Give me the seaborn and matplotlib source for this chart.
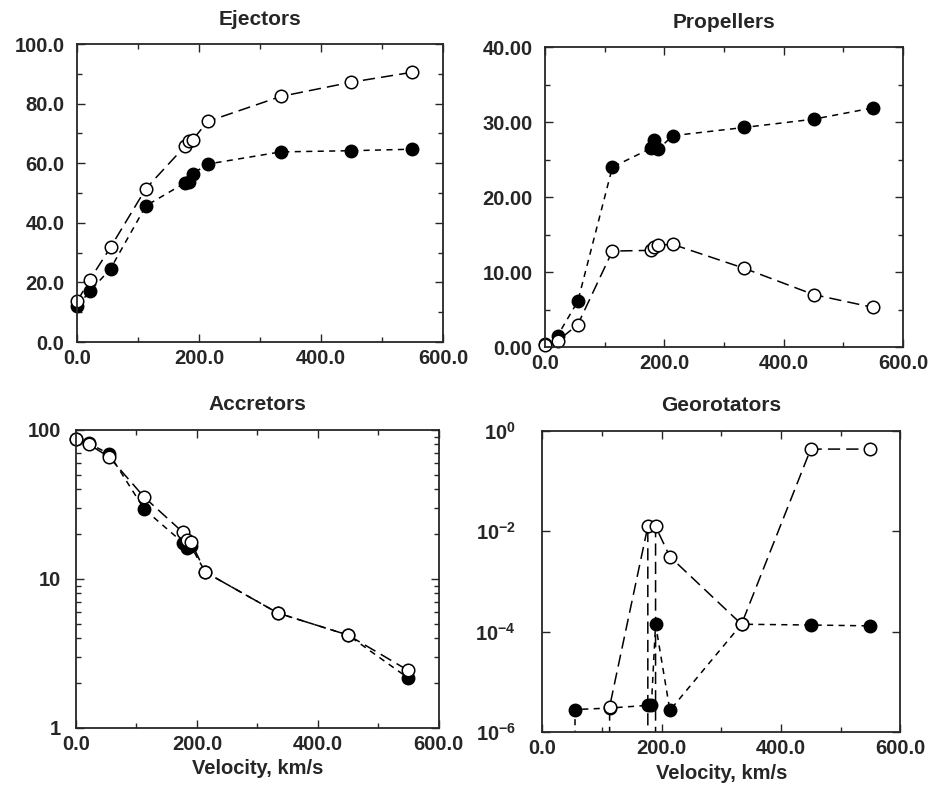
import numpy as np
import pandas as pd
import matplotlib
matplotlib.use('Agg')
import matplotlib.pyplot as plt
from matplotlib.ticker import FixedLocator, MultipleLocator, FormatStrFormatter, NullLocator, LogLocator
import seaborn as sns

# velocities (km/s) common to all runs
velocity = [0, 21, 55, 113, 177, 183, 190, 214, 334, 450, 549]

# Ejectors, %
ej_open = [13.6, 20.9, 31.8, 51.5, 65.7, 67.3, 67.9, 74.0, 82.4, 87.2, 90.5]
ej_fill = [12.0, 17.0, 24.6, 45.7, 53.4, 53.8, 56.5, 59.7, 63.8, 64.2, 64.7]

# Propellers, %
pr_open = [0.3, 0.8, 3.0, 12.8, 12.9, 13.4, 13.6, 13.7, 10.5, 7.0, 5.3]
pr_fill = [0.4, 1.5, 6.1, 24.0, 26.5, 27.6, 26.4, 28.2, 29.3, 30.4, 31.9]

# Accretors, % (log)
ac_open = [87, 80, 65.6, 35.3, 20.5, 18.3, 17.8, 11.1, 5.9, 4.2, 2.44]
ac_fill = [87, 81, 69, 29.3, 17.5, 16.1, 16.6, 11.1, 5.9, 4.2, 2.17]

# Georotators, % (log, zeros fall off the axis)
ge_open = [0, 0, 0, 3.2e-6, 0.0124, 0, 0.0124, 0.0031, 1.4e-4, 0.43, 0.43]
ge_fill = [0, 0, 2.8e-6, 3.0e-6, 3.4e-6, 3.4e-6, 1.4e-4, 2.7e-6, 1.4e-4, 1.35e-4, 1.3e-4]

sns.set_style('ticks')
plt.rcParams['font.family'] = ['Liberation Sans', 'DejaVu Sans']
plt.rcParams['font.weight'] = 'bold'
plt.rcParams['mathtext.fontset'] = 'custom'
plt.rcParams['mathtext.rm'] = 'Liberation Sans:bold'
plt.rcParams['mathtext.bf'] = 'Liberation Sans:bold'
plt.rcParams['mathtext.default'] = 'bf'


def draw_pair(ax, y_fill, y_open):
    df = pd.DataFrame({'v': velocity, 'fill': y_fill, 'open': y_open})
    sns.lineplot(data=df, x='v', y='fill', ax=ax, sort=False, estimator=None,
                 color='black', marker='o', markersize=9, markerfacecolor='black',
                 markeredgecolor='black', markeredgewidth=1.0, linewidth=1.1)
    ax.get_lines()[-1].set_dashes((4, 3.5))
    sns.lineplot(data=df, x='v', y='open', ax=ax, sort=False, estimator=None,
                 color='black', marker='o', markersize=9, markerfacecolor='white',
                 markeredgecolor='black', markeredgewidth=1.1, linewidth=1.1)
    ax.get_lines()[-1].set_dashes((8, 4))


def style(ax, title, xlabel, ypad=9):
    ax.set_title(title, fontsize=15, fontweight='bold', pad=14)
    ax.set_xlim(0, 600)
    ax.xaxis.set_major_locator(MultipleLocator(200))
    ax.xaxis.set_minor_locator(MultipleLocator(100))
    ax.xaxis.set_major_formatter(FormatStrFormatter('%.1f'))
    ax.tick_params(which='both', direction='in', top=True, right=True, labelsize=14.5, width=1.0)
    ax.tick_params(which='major', length=6)
    ax.tick_params(axis='x', which='major', pad=5)
    ax.tick_params(axis='y', which='major', pad=ypad)
    ax.tick_params(which='minor', length=3.5)
    for s in ax.spines.values():
        s.set_linewidth(1.3)
    ax.set_ylabel('')
    if xlabel:
        ax.set_xlabel('Velocity, km/s', fontsize=14.5, fontweight='bold', labelpad=4)
    else:
        ax.set_xlabel('')
    for lab in ax.get_xticklabels() + ax.get_yticklabels():
        lab.set_fontweight('bold')


fig = plt.figure(figsize=(9.3, 7.93), dpi=100)
ax1 = fig.add_axes([0.0828, 0.5687, 0.3935, 0.3758])
ax2 = fig.add_axes([0.586, 0.5624, 0.385, 0.378])
ax3 = fig.add_axes([0.0817, 0.082, 0.390, 0.376])
ax4 = fig.add_axes([0.583, 0.0769, 0.385, 0.380])

draw_pair(ax1, ej_fill, ej_open)
ax1.set_ylim(0, 100)
ax1.yaxis.set_major_locator(MultipleLocator(20))
ax1.yaxis.set_minor_locator(MultipleLocator(10))
ax1.yaxis.set_major_formatter(FormatStrFormatter('%.1f'))
for l in ax1.get_lines():
    l.set_clip_on(False)
style(ax1, 'Ejectors', False)

draw_pair(ax2, pr_fill, pr_open)
ax2.set_ylim(0, 40)
ax2.yaxis.set_major_locator(MultipleLocator(10))
ax2.yaxis.set_minor_locator(MultipleLocator(5))
ax2.yaxis.set_major_formatter(FormatStrFormatter('%.2f'))
for l in ax2.get_lines():
    l.set_clip_on(False)
style(ax2, 'Propellers', False)

draw_pair(ax3, ac_fill, ac_open)
ax3.set_yscale('log')
ax3.set_ylim(1, 100)
ax3.yaxis.set_major_locator(FixedLocator([1, 10, 100]))
ax3.yaxis.set_major_formatter(FormatStrFormatter('%g'))
ax3.yaxis.set_minor_locator(LogLocator(base=10, subs=np.arange(2, 10)))
for l in ax3.get_lines():
    l.set_clip_on(False)
style(ax3, 'Accretors', True, ypad=11)

draw_pair(ax4, ge_fill, ge_open)
ax4.set_yscale('log')
ax4.set_ylim(1e-6, 1)
ax4.yaxis.set_major_locator(FixedLocator([1e-6, 1e-4, 1e-2, 1]))
ax4.set_yticklabels([r'$10^{-6}$', r'$10^{-4}$', r'$10^{-2}$', r'$10^{0}$'])
ax4.yaxis.set_minor_locator(NullLocator())
style(ax4, 'Georotators', True, ypad=19)

fig.savefig('out.png', dpi=100, facecolor='white')
